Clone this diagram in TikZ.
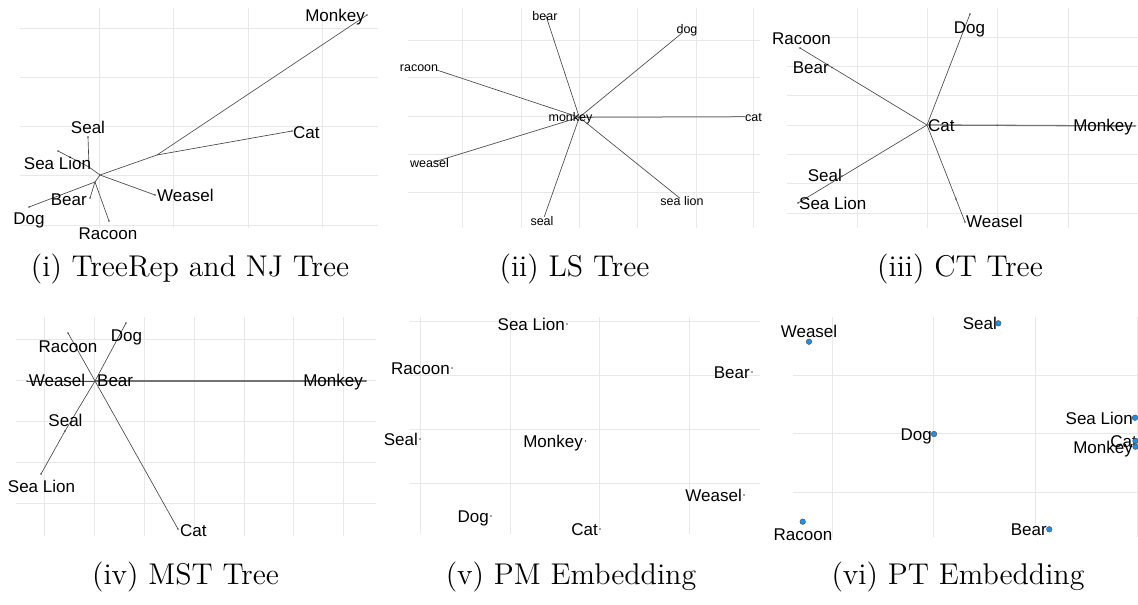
\documentclass[tikz,border=0pt]{standalone}
\usepackage{fontspec}
\newfontfamily\labfont{Liberation Sans}
\newfontfamily\capfont{lmroman12-regular.otf}
\begin{document}
\begin{tikzpicture}[x=1pt,y=-1pt,
  gridline/.style={draw=black!9, line width=0.8pt},
  edge/.style={draw=black!72, line width=0.65pt},
  thickedge/.style={draw=black!55, line width=1.3pt},
  lab/.style={font=\labfont\fontsize{17}{17}\selectfont, inner sep=0pt, text height=12.2pt, text depth=0pt},
  smalllab/.style={font=\labfont\fontsize{12.5}{12.5}\selectfont, inner sep=0pt, text height=9pt, text depth=0pt},
  capt/.style={font=\capfont\fontsize{30}{36}\selectfont, inner sep=0pt, anchor=base},
  leafdot/.style={circle, fill=black!70, inner sep=0pt, minimum size=1.6pt},
  bluedot/.style={circle, fill={rgb,255:red,30;green,144;blue,232}, draw=black!70, line width=0.4pt, inner sep=0pt, minimum size=5.6pt}
]
\useasboundingbox (0,0) rectangle (1138,605);
\fill[white] (0,0) rectangle (1138,605);

% ---------------- grids ----------------
% panel i
\foreach \x in {99,173,248,322} \draw[gridline] (\x,8) -- (\x,228);
\foreach \y in {28,77,126,175,225} \draw[gridline] (20,\y) -- (378,\y);
% panel ii
\foreach \x in {462,521,579,637,696,753} \draw[gridline] (\x,8) -- (\x,228);
\foreach \y in {40,77,116,154,192} \draw[gridline] (408,\y) -- (760,\y);
% panel iii
\foreach \x in {857,927,997,1068} \draw[gridline] (\x,8) -- (\x,228);
\foreach \y in {37,66,95,125,154,183,213} \draw[gridline] (787,\y) -- (1138,\y);
% panel iv
\foreach \x in {44,94,144,194,244,293,343} \draw[gridline] (\x,317) -- (\x,536);
\foreach \y in {339,380,421,462,503} \draw[gridline] (16,\y) -- (376,\y);
% panel v
\foreach \x in {420,510,599,689} \draw[gridline] (\x,317) -- (\x,534);
\foreach \y in {321,375,429,483} \draw[gridline] (410,\y) -- (760,\y);
% panel vi
\foreach \x in {832,933,1035,1137} \draw[gridline] (\x,317) -- (\x,537);
\foreach \y in {375,433,492} \draw[gridline] (793,\y) -- (1138,\y);

% ---------------- panel i: TreeRep / NJ ----------------
\coordinate (imon) at (367,15);
\coordinate (iA) at (157,155);
\coordinate (icat) at (292,131);
\coordinate (iB) at (100,175);
\coordinate (iwea) at (155,195);
\coordinate (iE) at (89,167);
\coordinate (iseal) at (88,137);
\coordinate (isl) at (58,151);
\coordinate (iD) at (95,182);
\coordinate (idog) at (29,207);
\coordinate (ibear) at (90,198);
\coordinate (irac) at (109,221);
\draw[edge] (imon) -- (iA);
\draw[edge] (iA) -- (icat);
\draw[edge] (iA) -- (iB);
\draw[edge] (iB) -- (iwea);
\draw[edge] (iB) -- (iE);
\draw[edge] (iE) -- (iseal);
\draw[edge] (iE) -- (isl);
\draw[edge] (iB) -- (iD);
\draw[edge] (iD) -- (idog);
\draw[edge] (iD) -- (ibear);
\draw[edge] (iD) -- (irac);
\foreach \p in {imon,icat,iwea,iseal,isl,idog,ibear,irac} \node[leafdot] at (\p) {};
\node[lab, anchor=east] (ilmon) at (365,15.5) {Monkey};
\node[lab, anchor=west] (ilcat) at (293,132) {Cat};
\node[lab, anchor=west] (ilwea) at (157,195) {Weasel};
\node[lab] (ilseal) at (88,127) {Seal};
\node[lab] (ilsl) at (57.5,163) {Sea Lion};
\node[lab, anchor=east] (ilbear) at (87,199) {Bear};
\node[lab] (ildog) at (29,218) {Dog};
\node[lab] (ilrac) at (108,233) {Racoon};

% ---------------- panel ii: LS ----------------
\coordinate (iic) at (579.3,117.3);
\coordinate (iibear) at (545.7,15);
\coordinate (iidog) at (681.7,33.3);
\coordinate (iirac) at (436.7,70);
\coordinate (iicat) at (745,116.7);
\coordinate (iiwea) at (435,161.7);
\coordinate (iiseal) at (544.3,216.7);
\coordinate (iisl) at (680,198.3);
\draw[edge] (iic) -- (iibear);
\draw[edge] (iic) -- (iidog);
\draw[edge] (iic) -- (iirac);
\draw[thickedge, line width=1pt] (iic) -- (iicat);
\draw[edge] (iic) -- (iiwea);
\draw[edge] (iic) -- (iiseal);
\draw[edge] (iic) -- (iisl);
\node[smalllab] (iilbear) at (545,16) {bear};
\node[smalllab] (iildog) at (687,28.5) {dog};
\node[smalllab] (iilrac) at (419,66.5) {racoon};
\node[smalllab] (iilmon) at (570.5,116.7) {monkey};
\node[smalllab, anchor=west] (iilcat) at (745,116.7) {cat};
\node[smalllab] (iilwea) at (429.5,163) {weasel};
\node[smalllab] (iilseal) at (542,220.5) {seal};
\node[smalllab] (iilsl) at (682,200.5) {sea lion};

% ---------------- panel iii: CT ----------------
\coordinate (iiic) at (927,125);
\coordinate (iiidog) at (970,14);
\coordinate (iiirac) at (800,48);
\coordinate (iiibear) at (832,67.5);
\coordinate (iiisl) at (798,203);
\coordinate (iiiseal) at (842,176);
\coordinate (iiiwea) at (965,222);
\coordinate (iiiwt) at (956,199);
\coordinate (iiimon) at (1135,126);
\coordinate (iiimid) at (997,125.3);
\draw[edge] (iiic) -- (iiidog);
\draw[edge] (iiic) -- (iiirac);
\draw[edge] (iiic) -- (iiisl);
\draw[edge] (iiic) -- (iiiwea);
\draw[thickedge] (iiic) -- (iiimid);
\draw[thickedge] (iiimid) -- (iiimon);
\foreach \p in {iiidog,iiirac,iiibear,iiisl,iiiseal,iiiwea,iiiwt,iiimon,iiimid} \node[leafdot] at (\p) {};
\node[lab] (iiilrac) at (801.5,38.5) {Racoon};
\node[lab, anchor=east] (iiilbear) at (829,67.5) {Bear};
\node[lab] (iiildog) at (969.5,27.5) {Dog};
\node[lab, anchor=west] (iiilcat) at (928,125.5) {Cat};
\node[lab, anchor=east] (iiilmon) at (1133,125.5) {Monkey};
\node[lab, anchor=east] (iiilseal) at (842,175) {Seal};
\node[lab, anchor=west] (iiilsl) at (799,203.5) {Sea Lion};
\node[lab, anchor=west] (iiilwea) at (966,221.5) {Weasel};

% ---------------- panel iv: MST ----------------
\coordinate (ivc) at (95,381);
\coordinate (ivmon) at (366,381);
\coordinate (ivwea) at (27,381);
\coordinate (ivdog) at (126,323);
\coordinate (ivsl) at (41,474);
\coordinate (ivseal) at (65,431);
\coordinate (ivrac) at (68,333);
\coordinate (ivcat) at (178,529);
\draw[thickedge] (ivc) -- (ivmon);
\draw[edge] (ivc) -- (ivwea);
\draw[edge] (ivc) -- (ivdog);
\draw[edge] (ivc) -- (ivseal);
\draw[edge] (ivseal) -- (ivsl);
\draw[edge] (ivc) -- (ivrac);
\draw[edge] (ivc) -- (ivcat);
\foreach \p in {ivmon,ivwea,ivdog,ivsl,ivseal,ivrac,ivcat} \node[leafdot] at (\p) {};
\node[lab] (ivlrac) at (68,346) {Racoon};
\node[lab] (ivldog) at (126.5,335) {Dog};
\node[lab] (ivlwea) at (57,380.5) {Weasel};
\node[lab, anchor=west] (ivlbear) at (97,380.5) {Bear};
\node[lab, anchor=east] (ivlmon) at (363,380.5) {Monkey};
\node[lab] (ivlseal) at (65.5,420) {Seal};
\node[lab] (ivlsl) at (41.5,486) {Sea Lion};
\node[lab, anchor=west] (ivlcat) at (180,530) {Cat};

% ---------------- panel v: PM embedding ----------------
\node[lab, anchor=east] (vlsl) at (565,324) {Sea Lion};
\node[lab, anchor=east] (vlrac) at (450,368) {Racoon};
\node[lab, anchor=east] (vlbear) at (750,372) {Bear};
\node[lab, anchor=east] (vlseal) at (418,439) {Seal};
\node[lab, anchor=east] (vlmon) at (583,441) {Monkey};
\node[lab, anchor=east] (vlwea) at (742,495) {Weasel};
\node[lab, anchor=east] (vldog) at (489,516) {Dog};
\node[lab, anchor=east] (vlcat) at (598,529) {Cat};
\node[leafdot] (vdsl) at (567,324) {};
\node[leafdot] (vdrac) at (452,368) {};
\node[leafdot] (vdbear) at (752,372) {};
\node[leafdot] (vdseal) at (420,439) {};
\node[leafdot] (vdmon) at (585.5,441) {};
\node[leafdot] (vdwea) at (744,495) {};
\node[leafdot] (vddog) at (491,516) {};
\node[leafdot] (vdcat) at (600,529) {};

% ---------------- panel vi: PT embedding ----------------
\node[lab] (vilwea) at (809,331.5) {Weasel};
\node[lab, anchor=east] (vilseal) at (997,323) {Seal};
\node[lab, anchor=east] (vildog) at (932,434) {Dog};
\node[lab, anchor=east] (vilsl) at (1133,418) {Sea Lion};
\node[lab, anchor=east] (vilcat) at (1137,441) {Cat};
\node[lab, anchor=east] (vilmon) at (1133,447.5) {Monkey};
\node[lab] (vilrac) at (803,534) {Racoon};
\node[lab, anchor=east] (vilbear) at (1047,529.5) {Bear};
\node[bluedot] (vidwea) at (809,341.7) {};
\node[bluedot] (vidseal) at (998.3,323.3) {};
\node[bluedot] (viddog) at (934,434) {};
\node[bluedot] (vidsl) at (1135,417.7) {};
\node[bluedot] (vidcat) at (1135.5,441) {};
\node[bluedot] (vidmon) at (1135.5,446.7) {};
\node[bluedot] (vidrac) at (802.7,521.7) {};
\node[bluedot] (vidbear) at (1049.3,529.3) {};

% ---------------- captions ----------------
\node[capt] (cap1) at (190,276) {(i) TreeRep and NJ Tree};
\node[capt] (cap2) at (574.5,276) {(ii) LS Tree};
\node[capt] (cap3) at (960,276) {(iii) CT Tree};
\node[capt] (cap4) at (185.5,584) {(iv) MST Tree};
\node[capt] (cap5) at (571,584) {(v) PM Embedding};
\node[capt] (cap6) at (958,584) {(vi) PT Embedding};
\end{tikzpicture}
\end{document}
